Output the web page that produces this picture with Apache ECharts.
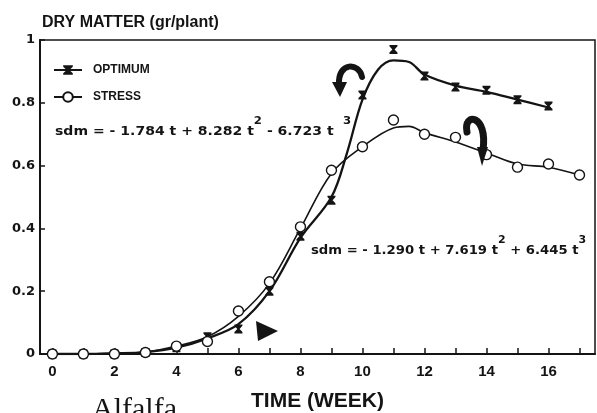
<!DOCTYPE html>
<html>
<head>
<meta charset="utf-8">
<script src="https://cdn.jsdelivr.net/npm/echarts@6/dist/echarts.min.js"></script>
<style>html,body{margin:0;padding:0;background:#fff}#c{width:597px;height:413px}</style>
</head>
<body>
<div id="c"></div>
<script>
// ---- data ----
const optWeeks = [0,1,2,3,4,5,6,7,8,9,10,11,12,13,14,15,16];
const optPts   = [0,0,0,0.005,0.02,0.055,0.08,0.2,0.375,0.49,0.825,0.97,0.885,0.85,0.84,0.81,0.79];
const strWeeks = [0,1,2,3,4,5,6,7,8,9,10,11,12,13,14,15,16,17];
const strPts   = [0,0,0,0.005,0.025,0.04,0.137,0.23,0.405,0.585,0.66,0.745,0.70,0.69,0.635,0.595,0.605,0.57];
// fitted curves as drawn
const optCurveT = [0,1,2,3,4,5,6,7,8,9,9.5,10,10.5,11,11.5,12,13,14,15,16];
const optCurveY = [0,0,0.002,0.006,0.02,0.05,0.095,0.2,0.37,0.5,0.64,0.81,0.905,0.935,0.93,0.89,0.855,0.835,0.81,0.785];
const strCurveT = [0,1,2,3,4,5,6,7,8,9,10,11,11.5,12,13,14,15,16,17];
const strCurveY = [0,0,0.002,0.006,0.025,0.055,0.12,0.225,0.4,0.575,0.66,0.72,0.725,0.705,0.675,0.64,0.605,0.595,0.57];
const xTicks  = [0,1,2,3,4,5,6,7,8,9,10,11,12,13,14,15,16,17];
const xLabels = [0,2,4,6,8,10,12,14,16];
const seriesNames = ['OPTIMUM','STRESS'];
const eq1 = ['sdm = - 1.784 t + 8.282 t', '2', ' - 6.723 t', '3'];
const eq2 = ['sdm = - 1.290 t + 7.619 t', '2', ' + 6.445 t', '3'];

const zip = (a, b) => a.map((v, i) => [v, b[i]]);
const INK = '#141414';
const hourglass = 'path://M0,0H10V1.6L6.4,5L10,8.4V10H0V8.4L3.6,5L0,1.6Z';

const chart = echarts.init(document.getElementById('c'));
const eqRich = {
  a: {fontFamily: 'DejaVu Sans', fontWeight: 'bold', fontSize: 12, lineHeight: 22, verticalAlign: 'bottom', fill: INK},
  s: {fontFamily: 'DejaVu Sans', fontWeight: 'bold', fontSize: 10, lineHeight: 22, verticalAlign: 'top', fill: INK},
  s3: {fontFamily: 'DejaVu Sans', fontWeight: 'bold', fontSize: 10, lineHeight: 22, verticalAlign: 'top', fill: INK, padding: [0,0,0,8]}
};
const eqText = (e, sup3) => `{a|${e[0]}}{s|${e[1]}}{a|${e[2]}}{${sup3}|${e[3]}}`;

chart.setOption({
  animation: false,
  backgroundColor: '#fff',
  grid: {left: 40, right: 2, top: 40, bottom: 59, outerBoundsMode: 'none', containLabel: false,
         show: true, borderColor: INK, borderWidth: 1.5, backgroundColor: 'transparent'},
  legend: {
    orient: 'vertical', left: 48, top: 59, itemWidth: 28, itemHeight: 12, itemGap: 15,
    data: seriesNames,
    textStyle: {fontFamily: 'Liberation Sans', fontWeight: 'bold', fontSize: 12, color: INK, padding: [0,0,0,6]}
  },
  xAxis: {
    type: 'value', min: -0.4, max: 17.5,
    name: 'TIME (WEEK)', nameLocation: 'middle', nameGap: 37,
    nameTextStyle: {fontFamily: 'Liberation Sans', fontWeight: 'bold', fontSize: 21, color: INK},
    axisLine: {show: true, onZero: false, lineStyle: {color: INK, width: 2}},
    axisTick: {show: true, inside: true, length: 6, customValues: xTicks, lineStyle: {color: INK, width: 1.5}},
    axisLabel: {customValues: xLabels, margin: 10, fontFamily: 'Liberation Sans', fontWeight: 'bold', fontSize: 15, color: INK},
    splitLine: {show: false}
  },
  yAxis: {
    type: 'value', min: 0, max: 1, interval: 0.2,
    name: 'DRY MATTER (gr/plant)', nameLocation: 'end', nameGap: 9,
    nameTextStyle: {align: 'left', fontFamily: 'Liberation Sans', fontWeight: 'bold', fontSize: 16, color: INK, padding: [0,0,0,2]},
    axisLine: {show: true, onZero: false, lineStyle: {color: INK, width: 2}},
    axisTick: {show: true, inside: true, length: 5, lineStyle: {color: INK, width: 1.5}},
    axisLabel: {margin: 5, fontFamily: 'DejaVu Sans', fontWeight: 'bold', fontSize: 13, color: INK},
    splitLine: {show: false}
  },
  series: [
    {name: seriesNames[0], type: 'line', smooth: 0.35, data: zip(optCurveT, optCurveY),
     symbol: hourglass, symbolSize: [8, 9], showSymbol: false,
     lineStyle: {color: INK, width: 2.3}, itemStyle: {color: INK}, z: 3},
    {name: seriesNames[1], type: 'line', smooth: 0.35, data: zip(strCurveT, strCurveY),
     symbol: 'circle', symbolSize: 10, showSymbol: false,
     lineStyle: {color: INK, width: 1.6}, itemStyle: {color: '#fff', borderColor: INK, borderWidth: 1.4}, z: 3},
    {name: 'optPts', type: 'scatter', data: zip(optWeeks, optPts), symbol: hourglass, symbolSize: [8, 9],
     itemStyle: {color: INK, opacity: 1}, z: 4},
    {name: 'strPts', type: 'scatter', data: zip(strWeeks, strPts), symbol: 'circle', symbolSize: 10,
     itemStyle: {color: '#fff', borderColor: INK, borderWidth: 1.4, opacity: 1}, z: 5}
  ],
  graphic: [
    {type: 'text', x: 55, y: 116, scaleX: 1.17, z: 10,
     style: {text: eqText(eq1, 's3'), rich: eqRich, align: 'left', verticalAlign: 'top'}},
    {type: 'text', x: 311, y: 235, scaleX: 1.1, z: 10,
     style: {text: eqText(eq2, 's'), rich: eqRich, align: 'left', verticalAlign: 'top'}},
    {type: 'text', x: 92, y: 410, z: 10,
     style: {text: 'Alfalfa', fontFamily: 'Liberation Serif', fontSize: 30, fill: INK, verticalAlign: 'middle', align: 'left'}},
    // hand-drawn annotation marks
    {type: 'bezierCurve', z: 6, shape: {x1: 362, y1: 77, cpx1: 359, cpy1: 62, cpx2: 338, cpy2: 62, x2: 339, y2: 84},
     style: {stroke: INK, lineWidth: 6, fill: null, lineCap: 'round'}},
    {type: 'polygon', z: 6, shape: {points: [[332,82],[340,97],[347,82]]}, style: {fill: INK}},
    {type: 'bezierCurve', z: 6, shape: {x1: 467, y1: 132, cpx1: 463, cpy1: 112, cpx2: 488, cpy2: 114, x2: 483, y2: 150},
     style: {stroke: INK, lineWidth: 7, fill: null, lineCap: 'round'}},
    {type: 'polygon', z: 6, shape: {points: [[477,147],[482,166],[488,147]]}, style: {fill: INK}},
    {type: 'polygon', z: 6, shape: {points: [[256,321],[278,331],[258,341]]}, style: {fill: INK}}
  ]
});
</script>
</body>
</html>
